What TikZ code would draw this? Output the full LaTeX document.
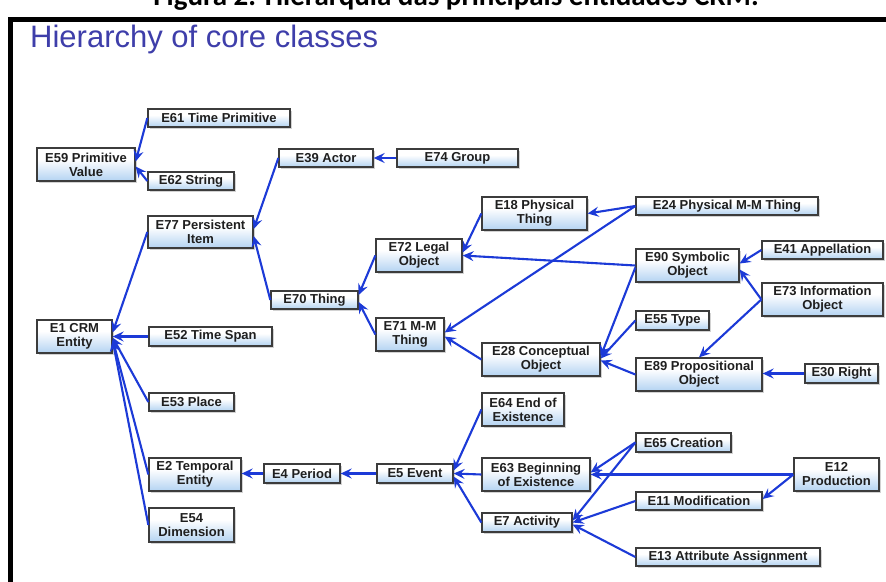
\documentclass[tikz,border=0pt]{standalone}
\usepackage{fontspec}
\setmainfont{Liberation Sans}
\newfontfamily\capfont{Carlito}
\usetikzlibrary{arrows.meta,shadows}
\definecolor{edgeblue}{RGB}{28,58,215}
\definecolor{titleblue}{RGB}{62,62,170}
\definecolor{boxtop}{RGB}{186,216,246}
\definecolor{boxbot}{RGB}{122,178,232}
\definecolor{boxline}{RGB}{60,60,60}
\pgfdeclareverticalshading{boxshade}{100bp}{color(0bp)=(boxbot); color(58bp)=(white); color(84bp)=(white); color(100bp)=(boxtop)}
\tikzset{
 cbox/.style={draw=boxline, line width=1.3pt, shading=boxshade, shading angle=0,
   inner sep=0pt, align=center, font=\fontsize{13}{14}\selectfont\bfseries, text=black!88,
   drop shadow={opacity=0.35,shadow xshift=1.5pt,shadow yshift=-1.5pt}},
 isa/.style={draw=edgeblue, line width=2.1pt, -{Stealth[length=11pt,width=10pt,inset=4pt]}},
 frameline/.style={line width=5pt, black},
}
\newcommand\cb[6]{\node[cbox,minimum width={#4-#2},minimum height={#5-#3}] (#1) at ({(#2+#4)/2},{(#3+#5)/2}) {#6};}
\begin{document}
\begin{tikzpicture}[x=1pt,y=-1pt]
\fill[white] (0,0) rectangle (886,581);
\useasboundingbox (0,0) rectangle (886,581);
% caption (cut at top) and frame
\node[anchor=base, font=\capfont\fontsize{29}{32}\selectfont\bfseries, inner sep=0pt] (cap) at (456,5.5) {Figura 2. Hierarquia das principais entidades CRM.};
\draw[frameline] (10.5,600) -- (10.5,19) -- (900,19);
\node[anchor=base west, font=\fontsize{31}{33}\selectfont, text=titleblue, inner sep=0pt] (title) at (30,47) {Hierarchy of core classes};
% nodes
\cb{e61}{148}{109}{290}{127}{E61 Time Primitive}
\cb{e59}{37}{148}{135}{181}{E59 Primitive\\Value}
\cb{e62}{148}{172}{234}{190}{E62 String}
\cb{e39}{279}{149}{373}{167}{E39 Actor}
\cb{e74}{397}{149}{518}{167}{E74 Group}
\cb{e77}{148}{216}{253}{248}{E77 Persistent\\Item}
\cb{e18}{482}{197}{587}{230}{E18 Physical\\Thing}
\cb{e24}{636}{197}{818}{215}{E24 Physical M-M Thing}
\cb{e72}{376}{239}{462}{272}{E72 Legal\\Object}
\cb{e90}{636}{249}{739}{282}{E90 Symbolic\\Object}
\cb{e41}{762}{241}{883}{259}{E41 Appellation}
\cb{e70}{271}{291}{358}{309}{E70 Thing}
\cb{e73}{762}{283}{883}{316}{E73 Information\\Object}
\cb{e1}{37}{320}{112}{353}{E1 CRM\\Entity}
\cb{e52}{149}{327}{272}{346}{E52 Time Span}
\cb{e71}{376}{318}{444}{351}{E71 M-M\\Thing}
\cb{e55}{636}{311}{709}{330}{E55 Type}
\cb{e28}{482}{343}{600}{376}{E28 Conceptual\\Object}
\cb{e89}{636}{358}{762}{391}{E89 Propositional\\Object}
\cb{e30}{805}{364}{878}{383}{E30 Right}
\cb{e53}{149}{393}{234}{411}{E53 Place}
\cb{e64}{482}{393}{564}{426}{E64 End of\\Existence}
\cb{e65}{636}{433}{731}{452}{E65 Creation}
\cb{e2}{149}{458}{241}{491}{E2 Temporal\\Entity}
\cb{e4}{264}{464}{340}{483}{E4 Period}
\cb{e5}{377}{464}{453}{483}{E5 Event}
\cb{e63}{482}{458}{590}{491}{E63 Beginning\\of Existence}
\cb{e12}{794}{458}{879}{491}{E12\\Production}
\cb{e11}{636}{492}{762}{510}{E11 Modification}
\cb{e7}{482}{513}{572}{532}{E7 Activity}
\cb{e54}{149}{508}{234}{542}{E54\\Dimension}
\cb{e13}{636}{548}{820}{566}{E13 Attribute Assignment}
% edges
\draw[isa] (e61.west) -- ([yshift=3]e59.east);
\draw[isa] (e62.west) -- ([yshift=-2]e59.east);
\draw[isa] (e39.west) -- ([yshift=3]e77.east);
\draw[isa] (e70.west) -- ([yshift=-4]e77.east);
\draw[isa] (e77.west) -- ([yshift=4]e1.east);
\draw[isa] (e52.west) -- (e52.west -| e1.east);
\draw[isa] (e53.west) -- ([yshift=-1]e1.east);
\draw[isa] (e2.west) -- ([yshift=-3]e1.east);
\draw[isa] (e54.west) -- ([yshift=-4]e1.east);
\draw[isa] (e74.west) -- (e39.east);
\draw[isa] (e72.west) -- ([yshift=5]e70.east);
\draw[isa] (e71.west) -- ([yshift=-2]e70.east);
\draw[isa] (e18.west) -- ([yshift=3]e72.east);
\draw[isa] (e90.west) -- (e72.east);
\draw[isa] (e24.west) -- (e18.east);
\draw[isa] (e24.west) -- ([yshift=2]e71.east);
\draw[isa] (e28.west) -- ([yshift=-2]e71.east);
\draw[isa] ([yshift=-2]e90.west) -- ([yshift=3]e28.east);
\draw[isa] (e55.west) -- ([yshift=1]e28.east);
\draw[isa] (e89.west) -- ([yshift=-1]e28.east);
\draw[isa] (e41.west) -- ([yshift=2]e90.east);
\draw[isa] (e73.west) -- ([yshift=-4]e90.east);
\draw[isa] (e73.west) -- (e89.north);
\draw[isa] (e30.west) -- (e30.west -| e89.east);
\draw[isa] (e4.west) -- (e4.west -| e2.east);
\draw[isa] (e5.west) -- (e4.east);
\draw[isa] (e64.west) -- ([yshift=3]e5.east);
\draw[isa] (e63.west) -- (e5.east);
\draw[isa] (e7.west) -- ([yshift=-3]e5.east);
\draw[isa] (e65.west) -- ([yshift=2]e63.east);
\draw[isa] (e12.west) -- (e12.west -| e63.east);
\draw[isa] (e65.west) -- ([yshift=2]e7.east);
\draw[isa] (e11.west) -- (e7.east);
\draw[isa] (e13.west) -- ([yshift=-2]e7.east);
\draw[isa] (e12.west) -- ([yshift=2]e11.east);
\end{tikzpicture}
\end{document}
